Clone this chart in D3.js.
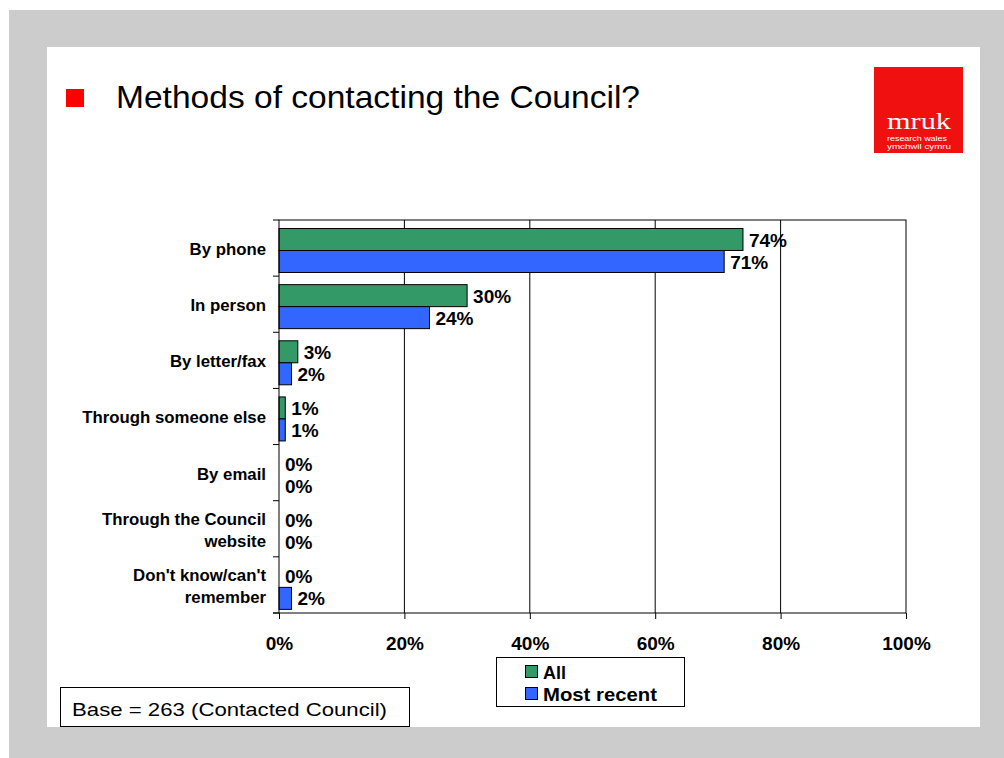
<!DOCTYPE html>
<html>
<head>
<meta charset="utf-8">
<script src="https://cdn.jsdelivr.net/npm/d3@7"></script>
<style>
  html, body { margin: 0; padding: 0; background: #fff; }
  svg { display: block; font-family: Arial, "Liberation Sans", sans-serif; }
</style>
</head>
<body>
<svg id="chart" width="1004" height="758"></svg>
<script>
// Survey data: how respondents contacted the Council
const categories = [
  ["By phone"],
  ["In person"],
  ["By letter/fax"],
  ["Through someone else"],
  ["By email"],
  ["Through the Council", "website"],
  ["Don't know/can't", "remember"]
];
const seriesNames = ["All", "Most recent"];
const allValues = [74, 30, 3, 1, 0, 0, 0];
const recentValues = [71, 24, 2, 1, 0, 0, 2];
const xTicks = [0, 20, 40, 60, 80, 100];
const seriesColors = ["#339966", "#3366FF"];

const svg = d3.select("#chart");

// Slide background and white panel
svg.append("rect").attr("x", 9).attr("y", 10).attr("width", 995).attr("height", 748).attr("fill", "#CCCCCC");
svg.append("rect").attr("x", 47).attr("y", 47).attr("width", 933).attr("height", 680).attr("fill", "#FFFFFF");

// Title with red bullet
svg.append("rect").attr("x", 66).attr("y", 89).attr("width", 18).attr("height", 18).attr("fill", "#FF0000");
svg.append("text").attr("x", 116).attr("y", 108)
  .attr("font-size", 32).attr("fill", "#000")
  .attr("textLength", 524).attr("lengthAdjust", "spacingAndGlyphs")
  .text("Methods of contacting the Council?");

// Logo block
const logo = svg.append("g");
logo.append("rect").attr("x", 874).attr("y", 67).attr("width", 89).attr("height", 86).attr("fill", "#F01010");
logo.append("text").attr("x", 887).attr("y", 129)
  .attr("font-family", "'Liberation Serif', 'DejaVu Serif', serif")
  .attr("font-size", 24).attr("fill", "#fff")
  .attr("textLength", 64).attr("lengthAdjust", "spacingAndGlyphs").text("mruk");
logo.append("text").attr("x", 887).attr("y", 141)
  .attr("font-size", 8).attr("fill", "#fff")
  .attr("textLength", 60).attr("lengthAdjust", "spacingAndGlyphs").text("research wales");
logo.append("text").attr("x", 887).attr("y", 149)
  .attr("font-size", 8).attr("fill", "#fff")
  .attr("textLength", 64).attr("lengthAdjust", "spacingAndGlyphs").text("ymchwil cymru");

// Plot geometry
const plot = { left: 279, right: 906, top: 220, bottom: 613 };

const x = d3.scaleLinear().domain([0, 100]).range([plot.left, plot.right]);
const y = d3.scaleBand().domain(d3.range(categories.length)).range([plot.top, plot.bottom]);
const barH = 22;
const inner = d3.scaleBand().domain([0, 1]).range([0, barH * 2]);
const groupOffset = 8.5;

// Vertical grid lines
svg.append("g").selectAll("line")
  .data(xTicks.filter(t => t > 0 && t < 100))
  .join("line")
  .attr("x1", d => x(d)).attr("x2", d => x(d))
  .attr("y1", plot.top).attr("y2", plot.bottom)
  .attr("stroke", "#000").attr("stroke-width", 1);

// Bars
const rows = categories.map((c, i) => ({ i, vals: [allValues[i], recentValues[i]] }));
const groups = svg.append("g").selectAll("g")
  .data(rows).join("g")
  .attr("transform", d => `translate(0,${y(d.i) + groupOffset})`);

groups.selectAll("rect")
  .data(d => d.vals.map((v, s) => ({ v, s })).filter(e => e.v > 0))
  .join("rect")
  .attr("x", x(0))
  .attr("y", e => inner(e.s))
  .attr("width", e => x(e.v) - x(0))
  .attr("height", inner.bandwidth())
  .attr("fill", e => seriesColors[e.s])
  .attr("stroke", "#000").attr("stroke-width", 1);

// Value labels
groups.selectAll("text")
  .data(d => d.vals.map((v, s) => ({ v, s })))
  .join("text")
  .attr("x", e => x(e.v) + 6)
  .attr("y", e => inner(e.s) + inner.bandwidth() / 2 + 7)
  .attr("font-size", 19).attr("font-weight", "bold").attr("fill", "#000")
  .text(e => e.v + "%");

// Plot frame
svg.append("rect")
  .attr("x", plot.left).attr("y", plot.top)
  .attr("width", plot.right - plot.left).attr("height", plot.bottom - plot.top)
  .attr("fill", "none").attr("stroke", "#000").attr("stroke-width", 1);

// Category axis
const yAxisG = svg.append("g");
yAxisG.selectAll("line.tick")
  .data(d3.range(categories.length + 1))
  .join("line")
  .attr("x1", plot.left - 6).attr("x2", plot.left)
  .attr("y1", d => plot.top + d * y.step()).attr("y2", d => plot.top + d * y.step())
  .attr("stroke", "#000");

yAxisG.selectAll("text")
  .data(categories.map((c, i) => ({ c, i })))
  .join("text")
  .attr("text-anchor", "end")
  .attr("font-size", 16).attr("font-weight", "bold").attr("fill", "#000")
  .attr("transform", "translate(266,0) scale(1.05,1)")
  .each(function(d) {
    const t = d3.select(this);
    const cy = y(d.i) + y.bandwidth() / 2;
    const lh = 22;
    const start = cy - (d.c.length - 1) * lh / 2 + 7;
    d.c.forEach((line, k) => {
      t.append("tspan").attr("x", 0).attr("y", start + k * lh).text(line);
    });
  });

// Value axis
const xAxis = d3.axisBottom(x).tickValues(xTicks).tickFormat(d => d + "%").tickSize(6).tickPadding(18);
const xAxisG = svg.append("g").attr("transform", `translate(0,${plot.bottom})`).call(xAxis);
xAxisG.select(".domain").remove();
xAxisG.selectAll("line").attr("stroke", "#000");
xAxisG.selectAll("text").attr("font-size", 19).attr("font-weight", "bold").attr("fill", "#000")
  .attr("font-family", "Arial, 'Liberation Sans', sans-serif");
svg.append("line").attr("x1", plot.left - 6).attr("x2", plot.left)
  .attr("y1", plot.bottom).attr("y2", plot.bottom).attr("stroke", "#000");

// Legend
const legend = svg.append("g");
legend.append("rect").attr("x", 496.5).attr("y", 657.5).attr("width", 188).attr("height", 49)
  .attr("fill", "#fff").attr("stroke", "#000");
const legendWidths = [23, 114];
seriesNames.forEach((name, s) => {
  const ly = 672 + s * 22;
  legend.append("rect").attr("x", 525.5).attr("y", ly - 6.5).attr("width", 12).attr("height", 12)
    .attr("fill", seriesColors[s]).attr("stroke", "#000");
  legend.append("text").attr("x", 543).attr("y", ly + 7)
    .attr("font-size", 18).attr("font-weight", "bold").attr("fill", "#000")
    .attr("textLength", legendWidths[s]).attr("lengthAdjust", "spacingAndGlyphs")
    .text(name);
});

// Base note
svg.append("rect").attr("x", 60.5).attr("y", 687.5).attr("width", 349).attr("height", 39)
  .attr("fill", "#fff").attr("stroke", "#000");
svg.append("text").attr("x", 72).attr("y", 715.5)
  .attr("font-size", 19).attr("fill", "#000")
  .attr("textLength", 315).attr("lengthAdjust", "spacingAndGlyphs")
  .text("Base = 263 (Contacted Council)");
</script>
</body>
</html>
